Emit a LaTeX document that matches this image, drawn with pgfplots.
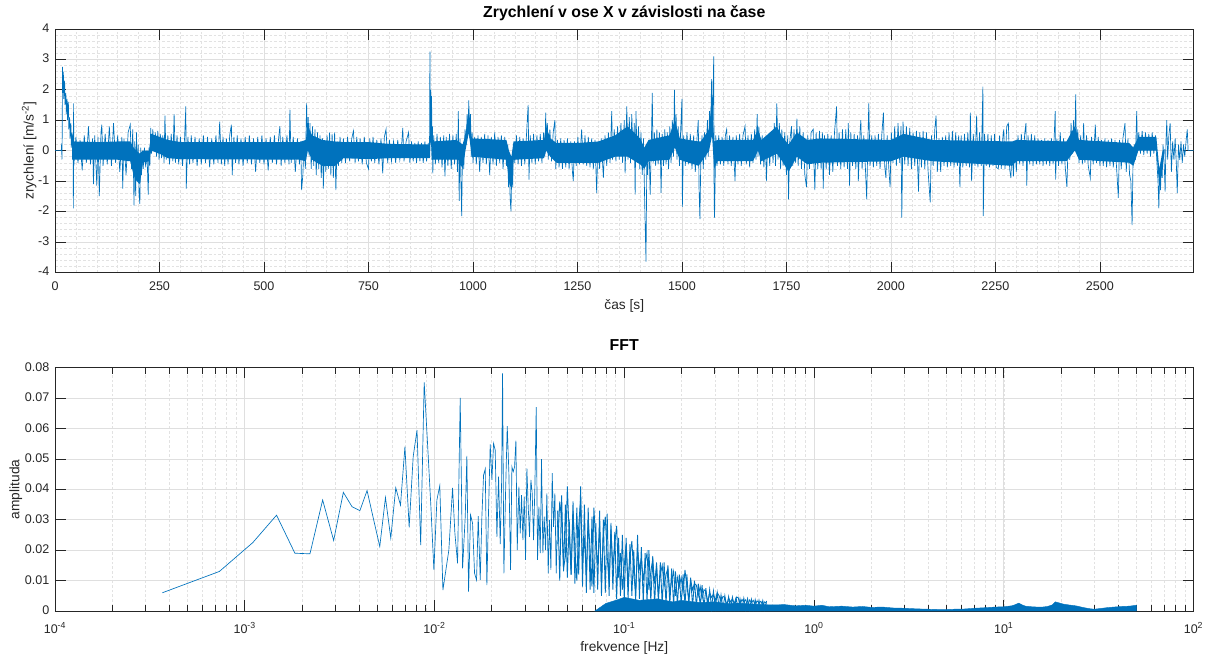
\documentclass[border=0pt]{standalone}
\usepackage{fontspec}
\setmainfont{Liberation Sans}
\usepackage{pgfplots}
\pgfplotsset{compat=1.18}
\usepackage{pgfplotstable}
\usepgfplotslibrary{fillbetween}
\definecolor{mblue}{RGB}{0,114,189}
\definecolor{axgray}{RGB}{38,38,38}
\definecolor{gridmaj}{RGB}{223,223,223}
\definecolor{gridmin}{RGB}{226,226,226}

\pgfplotstableread{
f a b
0.044668 0.033 0.022
0.045709 0.010 0.036
0.046774 0.038 0.030
0.047863 0.013 0.014
0.048978 0.035 0.018
0.050119 0.011 0.041
0.051286 0.030 0.025
0.052481 0.012 0.012
0.053703 0.036 0.033
0.054954 0.009 0.020
0.056234 0.034 0.010
0.057544 0.012 0.028
0.058884 0.041 0.037
0.060256 0.008 0.016
0.061660 0.035 0.024
0.063096 0.006 0.012
0.064565 0.034 0.030
0.066069 0.007 0.020
0.067608 0.031 0.008
0.069183 0.006 0.034
0.070795 0.029 0.022
0.072444 0.007 0.015
0.074131 0.033 0.028
0.075858 0.005 0.010
0.077625 0.030 0.025
0.079433 0.006 0.031
0.081283 0.032 0.018
0.083176 0.005 0.009
0.085114 0.029 0.027
0.087096 0.007 0.014
0.089125 0.026 0.022
0.091201 0.004 0.028
0.093325 0.024 0.011
0.095499 0.005 0.019
0.097724 0.025 0.007
0.1 0.004 0.015
0.10233 0.024 0.022
0.10471 0.004 0.009
0.10715 0.022 0.018
0.10965 0.005 0.023
0.11220 0.020 0.012
0.11482 0.003 0.006
0.11749 0.025 0.020
0.12023 0.004 0.014
0.12303 0.021 0.017
0.12589 0.003 0.010
0.12882 0.019 0.016
0.13183 0.003 0.019
0.13490 0.020 0.007
0.13804 0.003 0.013
0.14125 0.018 0.017
0.14454 0.002 0.009
0.14791 0.016 0.015
0.15136 0.003 0.005
0.15488 0.016 0.012
0.15849 0.002 0.015
0.16218 0.016 0.008
0.16596 0.002 0.012
0.16982 0.015 0.014
0.17378 0.002 0.006
0.17783 0.014 0.010
0.18197 0.002 0.013
0.18621 0.013 0.005
0.19055 0.002 0.011
0.19498 0.012 0.008
0.19953 0.002 0.011
0.20417 0.012 0.006
0.20893 0.002 0.0135
0.21380 0.012 0.008
0.21878 0.002 0.004
0.22387 0.011 0.010
0.22909 0.0015 0.007
0.23442 0.010 0.009
0.23988 0.0015 0.0085
0.24547 0.009 0.005
0.25119 0.0015 0.008
0.25704 0.0085 0.004
0.26303 0.0012 0.007
0.26915 0.0075 0.0065
0.27542 0.001 0.003
0.28184 0.007 0.006
0.28840 0.001 0.0045
0.29512 0.0065 0.0055
0.30200 0.001 0.0035
0.30903 0.006 0.006
0.31623 0.001 0.005
0.32359 0.0053 0.003
0.33113 0.0008 0.0048
0.33884 0.005 0.0045
0.34674 0.0008 0.002
0.35481 0.0047 0.0042
0.36308 0.0008 0.003
0.37154 0.0045 0.004
0.38019 0.0007 0.0025
0.38905 0.0042 0.0045
0.39811 0.0007 0.0045
0.40738 0.004 0.002
0.41687 0.0007 0.0038
0.42658 0.0042 0.003
0.43652 0.0006 0.0037
0.44668 0.004 0.0015
0.45709 0.0006 0.0036
0.46774 0.0038 0.0028
0.47863 0.0006 0.0035
0.48978 0.0037 0.002
0.50119 0.0006 0.0033
0.51286 0.0035 0.0027
0.52481 0.0005 0.0032
0.53703 0.0034 0.0018
0.54954 0.0005 0.003
0.56234 0.0033 0.0025
}\dense

\begin{document}
\begin{tikzpicture}

% ---------------- top axis ----------------
\begin{axis}[
  at={(41.25pt,286.3pt)}, anchor=south west,
  width=853.9pt, height=182.5pt, scale only axis,
  xmin=0, xmax=2724, ymin=-4, ymax=4,
  xtick={0,250,500,750,1000,1250,1500,1750,2000,2250,2500},
  xticklabels={0,250,500,750,1000,1250,1500,1750,2000,2250,2500},
  ytick={-4,-3,-2,-1,0,1,2,3,4},
  yticklabels={-4,-3,-2,-1,0,1,2,3,4},
  minor tick num=4,
  grid=both,
  major grid style={draw=gridmaj, line width=0.5pt},
  minor grid style={draw=gridmin, line width=0.4pt, dash pattern=on 2pt off 1.5pt},
  tick align=inside,
  major tick length=8pt, minor tick length=0pt,
  axis line style={draw=axgray, line width=0.5pt},
  every tick/.style={draw=axgray, line width=0.5pt},
  tick label style={font=\fontsize{9.4}{11}\selectfont, text=axgray},
  xticklabel style={anchor=base, yshift=-14pt, inner sep=0pt},
  yticklabel style={anchor=mid east, inner sep=0pt, xshift=-4.1pt},
  title={Zrychlení v ose X v závislosti na čase},
  title style={at={(axis description cs:0.5,1)}, anchor=base, yshift=2.5pt,
    font=\fontsize{11.9}{14}\selectfont\bfseries, text=black},
  xlabel={čas [s]},
  xlabel style={at={(axis description cs:0.5,0)}, anchor=base, yshift=-27.9pt,
    font=\fontsize{10.3}{12}\selectfont, text=axgray},
  ylabel={zrychlení [m/s\textsuperscript{-2}]},
  ylabel style={at={(axis description cs:-0.01888,0.5)}, anchor=base, rotate=0,
    font=\fontsize{10.3}{12}\selectfont, text=axgray},
]
\addplot[name path=cu, draw=none, forget plot] coordinates {
(45,0.3)(100,0.28)(150,0.3)(180,0.3)(188,0.1)(195,0.0)(203,-0.1)(210,0.0)(225,0.0)(230,0.55)(250,0.45)(270,0.35)(300,0.28)(585,0.28)(600,0.35)(605,0.8)(615,0.5)(640,0.35)(670,0.3)(690,0.28)(750,0.28)(800,0.22)(895,0.2)(897,0.2)(899,1.6)(902,0.3)(960,0.35)(966,0.3)(975,0.2)(982,0.5)(990,1.4)(997,0.4)(1080,0.35)(1086,0.0)(1092,-0.2)(1097,0.3)(1170,0.35)(1175,0.8)(1185,0.4)(1200,0.25)(1250,0.25)(1300,0.3)(1340,0.5)(1370,0.8)(1400,0.4)(1410,0.1)(1420,0.35)(1470,0.5)(1483,1.0)(1495,0.4)(1540,0.3)(1545,0.3)(1565,0.7)(1572,1.8)(1577,0.3)(1585,0.35)(1670,0.35)(1682,0.7)(1690,0.35)(1727,0.8)(1740,0.45)(1755,0.2)(1775,0.6)(1800,0.35)(1830,0.4)(2000,0.35)(2030,0.55)(2100,0.35)(2290,0.3)(2300,0.35)(2420,0.3)(2440,0.8)(2450,0.35)(2570,0.25)(2580,0.1)(2592,0.45)(2635,0.45)(2642,-0.6)(2650,0.0)(2655,0.05)
};
\addplot[name path=cl, draw=none, forget plot] coordinates {
(45,-0.3)(100,-0.3)(150,-0.3)(180,-0.35)(188,-0.8)(195,-1.0)(203,-1.1)(210,-0.4)(225,-0.35)(230,0.0)(250,-0.1)(270,-0.25)(300,-0.28)(585,-0.3)(600,-0.35)(605,0.0)(615,-0.3)(640,-0.5)(670,-0.5)(690,-0.25)(750,-0.28)(800,-0.25)(895,-0.25)(897,-0.25)(899,0.4)(902,-0.3)(960,-0.3)(966,-0.3)(975,-0.6)(982,0.0)(990,0.6)(997,-0.2)(1080,-0.3)(1086,-1.0)(1092,-1.3)(1097,-0.3)(1170,-0.25)(1175,0.0)(1185,-0.2)(1200,-0.4)(1250,-0.4)(1300,-0.4)(1340,-0.2)(1370,-0.2)(1400,-0.45)(1410,-0.6)(1420,-0.35)(1470,-0.3)(1483,0.1)(1495,-0.3)(1540,-0.5)(1545,-0.4)(1565,0.0)(1572,0.5)(1577,-0.6)(1585,-0.35)(1670,-0.35)(1682,0.0)(1690,-0.35)(1727,-0.1)(1740,-0.35)(1755,-0.7)(1775,-0.2)(1800,-0.45)(1830,-0.4)(2000,-0.35)(2030,-0.2)(2100,-0.35)(2290,-0.5)(2300,-0.35)(2420,-0.35)(2440,0.0)(2450,-0.3)(2570,-0.4)(2580,-0.5)(2592,0.0)(2635,0.0)(2642,-1.2)(2650,-0.5)(2655,-0.05)
};
\addplot[fill=mblue, draw=none, forget plot] fill between[of=cu and cl];
\addplot[mblue, line width=0.5pt] coordinates {
(0,0)(15,0)(16,0.24)(16.5,-0.3)(17,0)
(18,2.75)(19,1.9)(20,2.6)(21,1.7)(23,2.3)(24,1.5)(26,1.9)(27,1.2)(29,1.7)(30,1.0)(32,1.6)(33,0.7)(35,1.1)(36,0.4)(38,0.9)(39,0.1)(41,0.6)(42,-0.3)(43,0.5)(44,-1.9)(44.5,1.55)(45,-0.5)
(50,0.45)(55,-0.4)(60,0.35)(65,-0.65)(70,0.5)(75,-0.4)(80,0.8)(85,-0.45)(90,0.4)(92,-1.1)(95,0.5)(100,-1.15)(103,0.45)(106,-1.5)(110,0.6)(112,0.85)(115,-0.5)(120,0.55)(125,-0.45)(130,0.8)(135,-0.5)(140,0.9)(145,-0.4)(150,0.5)(155,-0.7)(160,0.45)(162,-1.25)(165,0.4)(170,-0.8)(175,0.6)(180,0.85)(183,-0.6)
(186,0.7)(188,-0.9)(189,-1.8)(191,0.3)(193,-1.5)(195,0.6)(197,-1.0)(199,0.2)(201,-1.4)(203,-1.75)(205,0.1)(207,-0.8)(209,0.0)(211,-0.6)(214,0.1)(217,-0.55)(220,0.0)(223,-1.45)(225,0.1)(227,-0.5)
(229,0.75)(231,-0.1)(234,0.7)(237,0.0)(240,0.6)(243,-0.2)(246,0.65)(249,-0.3)(252,0.55)(255,-0.25)(258,0.5)(261,-0.4)(263,1.15)(266,-0.3)(270,0.5)(274,-0.45)(278,0.55)(282,-0.35)(285,1.2)(288,-0.4)(292,0.5)(296,-0.45)(300,0.45)
(305,-0.5)(310,0.4)(313,1.45)(314,-1.25)(318,0.45)(322,-0.45)(326,0.5)(330,-0.4)(335,0.45)(340,-0.5)(345,0.4)(350,-0.45)(355,0.5)(360,-0.4)(365,0.45)(370,-0.55)(375,0.4)(380,-0.45)(385,0.5)(390,-0.4)(394,0.95)(398,-0.45)(402,0.45)(406,-0.5)(410,0.4)(414,-0.45)(418,0.5)(422,0.85)(424,-0.8)(428,0.45)(432,-0.4)(436,0.5)(440,-0.45)(445,0.4)(450,-0.5)(455,0.45)(460,-0.4)(465,0.5)(470,-0.45)(475,0.4)(480,-0.7)(485,0.45)(490,-0.4)(495,0.5)(500,-0.45)(505,0.4)(510,-0.65)(515,0.45)(520,-0.4)(525,0.5)(530,-0.45)(535,0.4)(538,0.8)(541,-0.5)(545,0.45)(550,-0.4)(555,0.5)(560,-0.45)(562,1.35)(565,-0.4)(570,0.45)(575,-0.7)(580,0.4)(585,-0.45)
(588,0.3)(590,-1.3)(593,-0.8)(596,0.3)(599,-0.6)(602,1.55)(604,0.3)(606,1.1)(608,-0.2)(610,0.9)(613,-0.6)(616,0.8)(619,-0.5)(622,0.7)(625,-0.8)(628,0.6)(631,-0.6)(634,0.5)(637,-0.9)(640,0.4)(642,-1.25)(645,0.3)(648,-0.7)(651,0.5)(654,-0.6)(657,0.6)(660,-0.8)(663,0.55)(666,-0.9)(669,0.6)(672,-1.3)(675,0.3)(678,-0.5)(682,0.45)(686,-0.4)(690,0.4)
(695,-0.4)(700,0.45)(705,-0.35)(710,0.4)(714,0.65)(718,-0.4)(722,0.45)(726,-0.35)(730,0.4)(735,-0.45)(740,0.45)(745,-0.4)(750,-0.6)(753,0.4)(757,-0.35)(761,0.45)(765,-0.4)(770,0.35)(775,-0.45)(780,0.4)(784,-0.75)(788,0.45)(792,0.7)(796,-0.4)(800,0.35)(805,-0.35)(810,0.3)(815,-0.4)(820,0.35)(825,-0.3)(830,0.3)(832,0.75)(835,-0.35)(840,0.3)(846,0.6)(849,-0.4)(853,0.3)(857,-0.35)(861,0.25)(865,-0.4)(869,0.3)(873,-0.35)(877,0.25)(881,-0.4)(885,0.3)(889,-0.35)(893,0.25)
(896,-0.2)(897,3.25)(898,0.5)(899,2.0)(900,0.2)(901,1.8)(902,-0.3)(903,0.8)(904,-0.75)(906,0.5)
(910,-0.45)(914,0.55)(918,-0.4)(922,0.45)(926,-0.55)(930,0.5)(933,-0.85)(936,0.45)(940,-0.5)(944,0.55)(948,-0.6)(952,0.5)(956,-0.45)(960,0.55)(963,-0.7)
(965,1.3)(967,-1.65)(969,0.4)(971,-0.9)(973,-2.15)(975,0.2)(978,-0.6)(981,0.7)(984,0.2)(986,1.2)(988,0.5)(990,1.65)(992,0.4)(994,1.2)(996,-0.2)(998,0.6)(1000,-0.4)
(1004,0.45)(1008,-0.45)(1012,0.5)(1016,-0.7)(1020,0.45)(1024,-0.4)(1028,0.55)(1032,-0.45)(1036,0.5)(1040,-0.8)(1044,0.45)(1048,-0.45)(1052,0.6)(1056,-0.5)(1060,0.45)(1064,-0.4)(1068,0.5)(1072,-0.6)(1076,0.45)(1080,-0.5)
(1083,0.2)(1085,-1.2)(1087,-0.4)(1089,-1.6)(1091,-2.0)(1093,-0.5)(1095,-1.2)(1097,0.2)(1100,-0.4)
(1104,0.5)(1108,-0.45)(1112,0.45)(1116,-0.5)(1120,0.4)(1124,-0.45)(1128,0.5)(1132,1.5)(1134,-0.95)(1137,0.5)(1141,-0.4)(1145,0.55)(1149,-0.45)(1153,0.5)(1157,-0.35)(1161,0.55)(1165,-0.4)(1169,0.6)
(1172,-0.2)(1174,1.25)(1176,0.0)(1178,0.9)(1180,-0.3)(1184,0.7)(1188,-0.35)(1192,0.6)(1196,1.0)(1198,-0.6)(1202,0.35)(1206,-0.55)(1210,0.4)(1214,-0.6)(1218,0.35)(1222,-0.55)(1226,0.4)(1230,-0.6)(1234,0.3)(1238,-0.7)(1240,-1.0)(1243,0.3)(1247,-0.5)(1251,0.45)(1255,-0.45)(1260,0.7)
(1264,-0.45)(1268,0.5)(1272,-0.5)(1276,0.45)(1280,-0.55)(1284,0.4)(1288,-0.6)(1292,0.35)(1296,-1.4)(1299,0.3)(1303,-0.6)(1307,0.4)(1312,-0.9)(1316,0.5)(1320,-0.5)(1324,0.6)(1328,-0.4)(1332,1.3)(1334,-0.3)(1338,0.7)(1342,-0.35)(1346,0.8)(1350,-0.3)
(1354,0.9)(1358,-0.4)(1362,1.0)(1364,-0.75)(1368,1.45)(1371,-0.3)(1374,1.1)(1377,-0.4)(1380,1.2)(1383,-0.3)(1386,0.9)(1388,-1.45)(1390,1.3)(1393,-0.4)(1396,0.8)(1399,-0.6)(1402,0.6)(1405,-0.8)(1408,0.4)(1411,-1.8)(1414,-3.65)(1416,-0.2)(1418,-0.8)
(1421,0.3)(1424,-1.45)(1427,0.4)(1429,1.9)(1431,-0.4)(1434,0.6)(1437,-0.5)(1440,0.7)(1443,-0.45)(1446,0.6)(1449,-0.5)(1450,-1.4)(1453,0.55)(1456,-0.5)(1459,0.7)(1462,-0.45)(1465,0.6)(1468,-0.6)(1471,0.8)(1474,-0.4)(1477,1.0)(1480,-0.2)(1482,2.0)(1484,0.2)(1486,1.2)(1488,-0.3)(1491,0.8)(1494,-0.5)(1497,0.7)(1500,1.7)(1501,-1.85)
(1504,0.5)(1508,-0.5)(1512,0.6)(1516,-0.45)(1520,0.55)(1524,-0.6)(1528,0.5)(1532,-0.7)(1536,0.4)(1539,1.0)(1541,-1.3)(1543,-2.25)(1545,-0.4)(1548,0.5)(1551,-0.6)(1554,0.6)(1557,-0.3)(1561,1.0)(1563,-0.2)(1566,1.3)(1568,0.3)(1571,2.35)(1573,0.6)(1576,3.1)(1577,-1.75)(1578,-2.2)(1581,0.5)(1584,-0.5)(1588,0.5)
(1592,-0.45)(1596,0.45)(1600,-0.5)(1604,0.5)(1607,0.7)(1610,-0.45)(1614,0.5)(1618,-0.5)(1622,0.45)(1627,-1.0)(1630,0.5)(1634,-0.45)(1638,0.55)(1642,-0.5)(1646,0.5)(1651,0.8)(1654,-0.45)(1658,0.5)(1662,-0.55)(1666,0.55)(1670,-0.4)(1674,0.7)(1677,-0.3)(1680,1.2)(1682,-0.2)(1684,0.8)
(1688,-0.45)(1692,0.5)(1696,-0.55)(1700,0.45)(1702,-1.0)(1706,0.5)(1710,-0.5)(1714,0.6)(1718,-0.4)(1721,0.9)(1724,-0.5)(1727,1.55)(1730,-0.3)(1733,0.9)(1736,-0.6)(1739,0.7)(1742,-0.5)(1746,0.6)(1750,-0.8)(1753,0.5)(1755,-1.6)(1758,0.3)(1762,0.8)(1765,-0.5)(1768,0.7)(1772,-0.4)(1775,1.05)(1778,-0.5)(1782,0.8)(1786,-0.6)(1790,0.6)(1794,-0.8)(1798,-1.2)(1801,0.5)(1805,-0.6)(1809,0.6)(1814,0.7)(1816,-0.5)(1818,-1.3)(1821,0.6)(1825,-0.6)(1829,0.65)
(1833,-0.6)(1836,0.6)(1838,-1.25)(1841,0.5)(1845,-0.6)(1849,0.55)(1853,-0.8)(1857,0.5)(1861,-0.7)(1865,0.6)(1870,1.45)(1872,-0.5)(1876,0.6)(1880,-0.6)(1884,0.7)(1888,-0.55)(1892,0.7)(1896,-0.6)(1898,0.9)(1901,-1.15)(1904,0.6)(1908,-0.5)(1912,0.55)(1916,-0.6)(1920,0.5)(1922,-1.0)(1926,0.6)(1928,1.0)(1931,-0.6)(1935,0.5)(1939,-0.6)(1942,-1.6)(1945,0.4)(1947,1.55)(1950,-0.5)(1954,0.5)(1958,-0.55)(1962,0.5)(1966,-0.5)(1970,0.55)(1974,-0.6)(1978,0.5)(1982,1.25)(1985,-0.5)(1988,-0.9)(1991,0.5)(1995,-0.6)(1998,-1.2)
(2001,0.6)(2005,-0.4)(2009,0.8)(2013,-0.5)(2017,0.9)(2021,-0.4)(2024,0.8)(2026,-2.2)(2029,0.95)(2033,-0.45)(2037,0.8)(2041,-0.5)(2045,0.75)(2049,-0.6)(2053,0.6)(2057,-0.5)(2061,0.65)(2066,-1.35)(2069,0.6)(2073,-0.55)(2077,0.65)(2081,-0.6)(2085,0.6)(2089,-0.7)(2094,-1.7)(2097,0.5)(2101,-0.5)(2105,0.7)(2108,1.15)(2111,-0.7)(2115,0.4)(2119,-0.7)(2123,0.45)(2127,-0.5)
(2131,0.5)(2135,-0.55)(2139,0.6)(2143,-0.5)(2147,0.65)(2151,-0.55)(2155,0.6)(2159,-0.5)(2162,0.5)(2165,-1.2)(2168,0.5)(2172,-0.55)(2176,0.55)(2180,-0.5)(2184,0.6)(2188,-0.55)(2190,1.25)(2193,-1.0)(2197,0.55)(2201,-0.5)(2205,1.15)(2208,-0.55)(2212,0.6)(2216,-0.5)(2220,2.1)(2221,-2.15)(2224,0.55)(2228,-0.5)(2232,0.55)(2236,-0.55)(2240,0.5)(2244,-0.5)(2248,0.55)(2252,-0.55)(2257,-0.6)(2260,0.5)(2264,-0.6)(2268,0.5)(2270,0.7)(2273,-0.6)(2277,0.8)(2281,0.9)(2284,-0.6)(2287,-0.9)(2290,0.2)
(2293,-0.85)(2296,0.3)(2300,-0.7)(2304,0.5)(2308,-0.45)(2312,0.55)(2316,-0.5)(2320,0.55)(2323,0.9)(2325,-1.15)(2328,0.5)(2332,-0.45)(2336,0.55)(2340,-0.5)(2344,0.5)(2348,-0.45)(2352,0.4)(2356,-0.45)(2360,0.35)(2364,-0.5)(2368,0.4)(2372,-0.45)(2376,0.35)(2380,-0.5)(2384,0.4)(2388,-0.45)(2393,1.3)(2394,-0.95)(2397,0.4)(2401,-0.5)(2405,0.6)(2409,-0.45)(2413,0.4)(2417,-0.55)(2421,-1.2)(2424,0.3)(2428,-0.3)(2431,0.9)(2434,-0.1)(2437,1.0)(2440,0.1)(2442,1.85)(2444,0.0)(2447,0.7)(2450,-0.4)
(2454,0.5)(2458,-0.45)(2461,0.9)(2464,-0.4)(2468,0.5)(2472,-0.5)(2477,-0.9)(2480,0.45)(2484,-0.45)(2489,0.85)(2492,-0.4)(2496,0.45)(2500,-0.5)(2504,0.35)(2508,-0.5)(2512,0.4)(2516,-0.55)(2520,0.35)(2524,-0.5)(2528,0.4)(2532,-0.55)(2536,0.35)(2540,-0.6)(2544,-1.55)(2547,0.35)(2551,-0.6)(2555,0.4)(2560,0.9)(2563,-0.7)(2567,0.4)(2571,-0.8)(2574,-1.0)(2577,-2.45)(2579,-0.5)(2582,0.2)(2585,-0.3)(2588,1.3)(2590,0.0)
(2593,0.6)(2597,-0.1)(2601,0.65)(2605,-0.15)(2609,0.6)(2613,-0.1)(2617,0.55)(2621,-0.2)(2625,0.6)(2629,-0.1)(2633,0.5)(2636,-0.3)(2639,-1.0)(2641,-1.9)(2643,-0.6)(2645,-1.3)(2647,-0.4)(2649,-0.9)(2651,0.2)(2654,-0.5)(2656,-1.35)(2658,0.3)(2660,1.0)(2662,-0.3)(2665,0.5)(2668,0.9)(2671,-0.7)(2674,0.3)(2677,-0.3)(2680,0.4)(2683,-0.5)(2685,-1.4)(2688,0.2)(2691,-0.3)(2694,0.3)(2697,-0.4)(2700,0.2)(2703,-0.2)(2706,0.3)(2709,0.7)(2711,0.0)(2724,0.0)
};
\end{axis}

% ---------------- bottom axis ----------------
\begin{axis}[
  at={(41.25pt,32.25pt)}, anchor=south west,
  width=853.9pt, height=182.5pt, scale only axis,
  xmode=log, xmin=1e-4, xmax=1e2, ymin=0, ymax=0.08,
  scaled y ticks=false,
  xtick={1e-4,1e-3,1e-2,1e-1,1,10,100},
  xticklabels={10\textsuperscript{-4},10\textsuperscript{-3},10\textsuperscript{-2},10\textsuperscript{-1},10\textsuperscript{0},10\textsuperscript{1},10\textsuperscript{2}},
  ytick={0,0.01,0.02,0.03,0.04,0.05,0.06,0.07,0.08},
  yticklabels={0,0.01,0.02,0.03,0.04,0.05,0.06,0.07,0.08},
  xminorgrids=true, xmajorgrids=true, ymajorgrids=true,
  major grid style={draw=gridmaj, line width=0.5pt},
  minor grid style={draw=gridmin, line width=0.4pt, dash pattern=on 2pt off 1.5pt},
  tick align=inside,
  major tick length=8pt, minor tick length=4.5pt,
  axis line style={draw=axgray, line width=0.5pt},
  every tick/.style={draw=axgray, line width=0.5pt},
  tick label style={font=\fontsize{9.4}{11}\selectfont, text=axgray},
  xticklabel style={anchor=base, yshift=-16.7pt, inner sep=0pt},
  yticklabel style={anchor=mid east, inner sep=0pt, xshift=-4.1pt},
  title={FFT},
  title style={at={(axis description cs:0.5,1)}, anchor=base, yshift=6.8pt,
    font=\fontsize{11.9}{14}\selectfont\bfseries, text=black},
  xlabel={frekvence [Hz]},
  xlabel style={at={(axis description cs:0.5,0)}, anchor=base, yshift=-30pt,
    font=\fontsize{10.3}{12}\selectfont, text=axgray},
  ylabel={amplituda},
  ylabel style={at={(axis description cs:-0.0312,0.5)}, anchor=base, rotate=0,
    font=\fontsize{10.3}{12}\selectfont, text=axgray},
]
\addplot[fill=mblue, draw=mblue, line width=0.3pt] coordinates {
(0.07,0)(0.08,0.0025)(0.09,0.0035)(0.1,0.0045)(0.12,0.0035)(0.15,0.0040)(0.18,0.0030)(0.2,0.0035)(0.25,0.0028)(0.3,0.0030)(0.35,0.0024)(0.4,0.0026)(0.5,0.0022)(0.6,0.0020)(0.7,0.0021)(0.8,0.0017)(0.9,0.0019)(1,0.0016)(1.1,0.0019)(1.2,0.0014)(1.4,0.0016)(1.6,0.0013)(1.8,0.0015)(2,0.0012)(2.3,0.0013)(2.6,0.0010)(3,0.0009)(3.5,0.0007)(4,0.0006)(4.5,0.0005)(5,0.0005)(5.5,0.0006)(6,0.0006)(7,0.0009)(8,0.0011)(9,0.0013)(10,0.0014)(11,0.0017)(11.5,0.0021)(12,0.0026)(12.5,0.0020)(13,0.0016)(14,0.0014)(15,0.0013)(16,0.0013)(17,0.0015)(18,0.0020)(18.7,0.0030)(19.5,0.0027)(20.5,0.0023)(22,0.0020)(24,0.0017)(26,0.0012)(28,0.0008)(30,0.0006)(32,0.0008)(35,0.0011)(38,0.0013)(42,0.0015)(46,0.0016)(50,0.0019)(50,0)
} \closedcycle;
\addplot[mblue, line width=0.5pt] coordinates {
(0.000368,0.0060)(0.000735,0.0130)(0.001103,0.0225)(0.001471,0.0315)(0.001838,0.0190)(0.002206,0.0188)(0.002574,0.0365)(0.002941,0.0232)(0.003309,0.0390)(0.003676,0.0343)(0.004044,0.0330)(0.004412,0.0396)(0.004779,0.0300)(0.005147,0.0212)(0.005515,0.0373)(0.005882,0.0240)(0.006250,0.0405)(0.006618,0.0348)(0.006985,0.0540)(0.007353,0.0275)(0.007721,0.0507)(0.008088,0.0595)(0.008456,0.0217)(0.008824,0.0752)(0.009191,0.0550)(0.009559,0.0350)(0.009926,0.0135)(0.010294,0.0365)(0.010662,0.0412)(0.011074,0.0069)(0.01190,0.0200)(0.01245,0.0405)(0.01281,0.0255)(0.01323,0.0157)(0.01366,0.0701)(0.01406,0.0140)(0.01452,0.0310)(0.01481,0.0510)(0.01512,0.0064)(0.01549,0.0316)(0.01587,0.0288)(0.01626,0.0124)(0.01666,0.0102)(0.01700,0.0312)(0.01742,0.0102)(0.01777,0.0310)(0.01814,0.0447)(0.01851,0.0467)(0.01888,0.0085)(0.01927,0.0332)(0.01966,0.0548)(0.02007,0.0431)(0.02048,0.0551)(0.02089,0.0529)(0.02132,0.0244)(0.02176,0.0442)(0.02220,0.0220)(0.02256,0.0409)(0.02284,0.0781)(0.02321,0.0124)(0.02368,0.0387)(0.02417,0.0608)(0.02466,0.0453)(0.02517,0.0135)(0.02558,0.0474)(0.02599,0.0458)(0.02642,0.0474)(0.02685,0.0560)(0.02729,0.0200)(0.02784,0.0409)(0.02830,0.0255)(0.02876,0.0381)(0.02923,0.0233)(0.02970,0.0376)(0.03019,0.0168)(0.03068,0.0469)(0.03118,0.0343)(0.03169,0.0244)(0.03221,0.0431)(0.03273,0.0387)(0.03327,0.0233)(0.03381,0.0409)(0.03436,0.0670)(0.03492,0.0168)(0.03549,0.0343)(0.03607,0.0190)(0.03665,0.0499)(0.03725,0.0190)(0.03786,0.0310)(0.03848,0.0200)(0.03910,0.0387)(0.03974,0.0124)(0.04039,0.0299)(0.04105,0.0135)(0.04172,0.0453)(0.04240,0.0277)(0.04309,0.0387)(0.04379,0.0124)(0.044668,0.033)
};
\addplot[mblue, line width=0.65pt] table[x=f, y=a] {\dense};
\addplot[mblue, line width=0.65pt] table[x=f, y=b] {\dense};
\end{axis}
\path[use as bounding box] (0,0) rectangle (903.75pt,490.5pt);
\end{tikzpicture}
\end{document}
